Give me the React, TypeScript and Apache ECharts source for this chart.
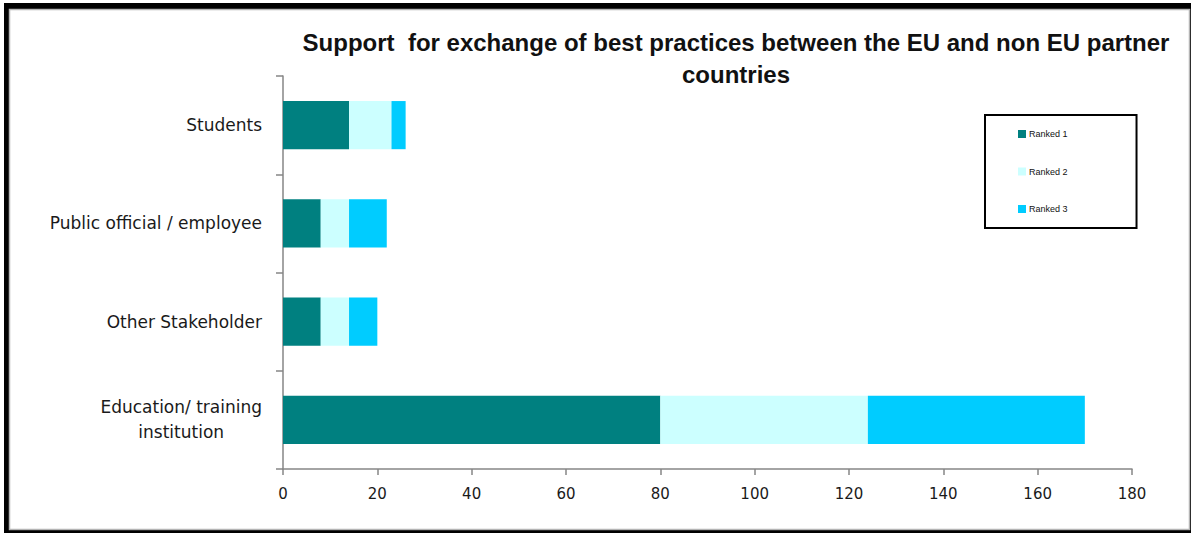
import React, { useEffect, useRef } from "react";
import * as echarts from "echarts";

const categories = ["Students", "Public official / employee", "Other Stakeholder", "Education/ training\ninstitution"];
const ranked1 = [14, 8, 8, 80];
const ranked2 = [9, 6, 6, 44];
const ranked3 = [3, 8, 6, 46];
const seriesNames = ["Ranked 1", "Ranked 2", "Ranked 3"];
const colors = ["#008080", "#CCFFFF", "#00CCFF"];
const titleText = "Support  for exchange of best practices between the EU and non EU partner\ncountries";

export default function App() {
  const ref = useRef<HTMLDivElement>(null);
  useEffect(() => {
    if (!ref.current) return;
    const chart = echarts.init(ref.current, null, { renderer: "svg" });
    const font = "Liberation Sans";
    const font2 = "DejaVu Sans";
    const data = [ranked1, ranked2, ranked3];
    chart.setOption({
      animation: false,
      backgroundColor: "#ffffff",
      graphic: [
        { type: "rect", z: -10, silent: true, shape: { x: 4, y: 3, width: 1200, height: 540 }, style: { fill: "#000000" } },
        { type: "rect", z: -9, silent: true, shape: { x: 9.5, y: 9.5, width: 1180, height: 520 }, style: { fill: "#ffffff", stroke: "#b4b4b4", lineWidth: 1.5 } },
      ],
      title: {
        text: titleText,
        left: 731,
        top: 21,
        textAlign: "center",
        textStyle: { fontFamily: font, fontWeight: "bold", fontSize: 24, lineHeight: 32, color: "#111111" },
      },
      legend: {
        orient: "vertical",
        left: 985,
        top: 115,
        padding: [14, 69, 14, 33],
        itemGap: 27.5,
        itemWidth: 8,
        itemHeight: 8,
        icon: "rect",
        borderColor: "#000000",
        borderWidth: 2,
        backgroundColor: "#ffffff",
        textStyle: { fontFamily: font, fontSize: 9, lineHeight: 10, color: "#111111", padding: [0, 0, 0, -2] },
        data: seriesNames,
      },
      grid: { left: 283, right: 59, top: 76, bottom: 64, containLabel: false },
      xAxis: {
        type: "value",
        min: 0,
        max: 180,
        interval: 20,
        splitLine: { show: false },
        axisLine: { show: true, lineStyle: { color: "#868686", width: 1.5 } },
        axisTick: { show: true, length: 6, lineStyle: { color: "#868686", width: 1.5 } },
        axisLabel: { fontFamily: font2, fontSize: 15, color: "#1a1a1a", margin: 17 },
      },
      yAxis: {
        type: "category",
        inverse: true,
        data: categories,
        axisLine: { show: true, lineStyle: { color: "#868686", width: 1.5 } },
        axisTick: { show: true, length: 7, lineStyle: { color: "#868686", width: 1.5 } },
        axisLabel: {
          fontFamily: font2,
          fontSize: 17,
          color: "#1a1a1a",
          margin: 21,
          lineHeight: 25,
          formatter: (v: string) => v.split("\n").map((s) => "{c|" + s + "}").join("\n"),
          rich: { c: { align: "center", fontFamily: font2, fontSize: 17, lineHeight: 25, color: "#1a1a1a" } },
        },
      },
      series: seriesNames.map((name, i) => ({
        name,
        type: "bar",
        stack: "total",
        barCategoryGap: "51%",
        itemStyle: { color: colors[i] },
        data: data[i],
      })),
    });
    return () => chart.dispose();
  }, []);
  return <div ref={ref} style={{ position: "absolute", left: 0, top: 0, width: 1191, height: 533 }} />;
}
